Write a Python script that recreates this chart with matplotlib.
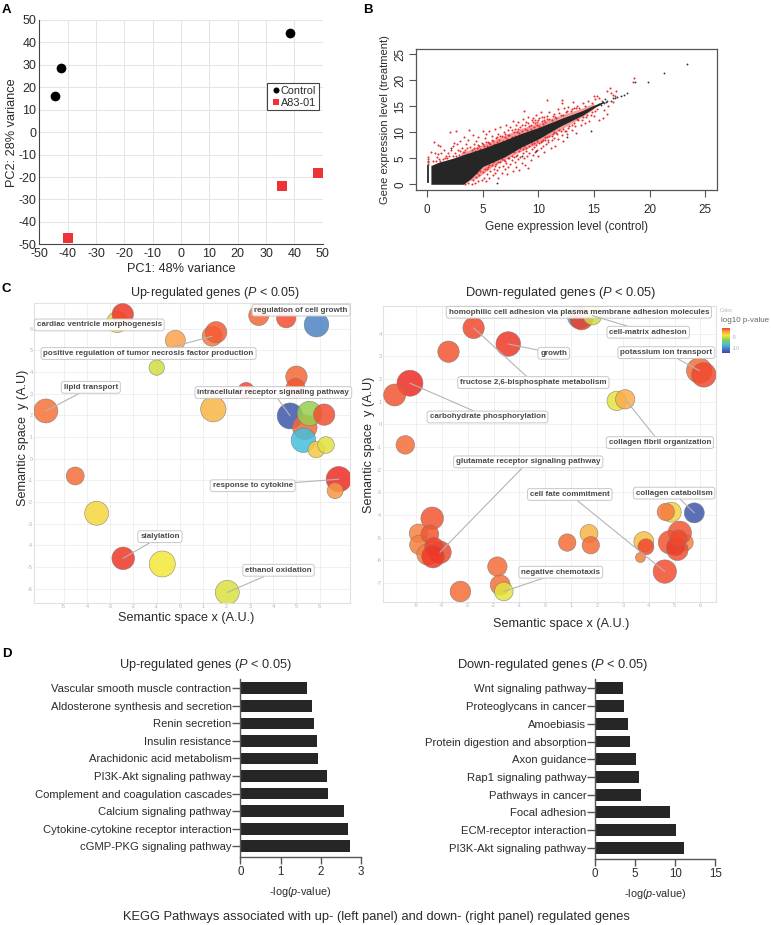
import matplotlib
matplotlib.use('Agg')
import matplotlib.pyplot as plt
import numpy as np
from matplotlib.colors import LinearSegmentedColormap, Normalize

plt.rcParams['font.family'] = ['Liberation Sans', 'DejaVu Sans']
plt.rcParams['mathtext.fontset'] = 'custom'
plt.rcParams['mathtext.rm'] = 'Liberation Sans'
plt.rcParams['mathtext.it'] = 'Liberation Sans:italic'
plt.rcParams['axes.unicode_minus'] = False

W, H = 771, 925
TXT = '#2b2b2b'

# Panel A
control_x = [38.5, -42.5, -44.5]
control_y = [44, 28.5, 16]
a83_x = [35.5, 48.5, -40]
a83_y = [-24, -18, -47]
a_ticks = list(range(-50, 51, 10))

# Panel B
band_x = [0.35, 1, 2.4, 3.27, 4, 5, 7, 8.5, 10, 12, 14, 15, 15.8]
band_up = [3.6, 4.2, 5.05, 5.7, 6.2, 6.9, 8.5, 9.8, 10.9, 12.6, 14.2, 15.2, 15.9]
band_lo = [0, 0, 0, 0, 1.2, 3.4, 5.3, 7.2, 8.7, 11.2, 13.3, 14.7, 15.6]
red_band_x = [3, 4.5, 6, 8, 10, 12, 14, 15]
red_band_up = [6.0, 7.2, 8.5, 10.4, 11.8, 13.3, 14.7, 15.6]
red_band_lo = [0, 1.2, 3.6, 5.9, 7.9, 10.5, 13.0, 14.5]
red_points = [
    (0.05,5.2),(0.05,4.8),(0.05,4.5),(0.05,4.2),(0.05,3.9),
    (0.4,6.2),(0.63,8.2),(1.0,7.5),(1.2,7.3),(0.7,6.0),(0.9,5.3),(0.5,4.4),(1.0,5.9),(1.3,6.1),(1.5,6.5),
    (1.6,5.1),(1.9,6.0),(1.1,4.8),(0.8,4.5),(1.4,4.9),(1.7,5.5),(2.0,5.4),(2.07,10.0),(2.2,6.6),(2.3,7.3),
    (2.57,10.3),(2.4,8.0),(2.5,6.0),(2.8,6.6),(2.7,7.8),(2.9,5.6),(2.95,8.4),(3.1,7.0),(3.2,6.2),(3.3,9.0),
    (3.4,6.6),(3.5,7.7),(3.6,5.9),(3.7,8.6),(3.8,10.4),(3.9,7.2),(4.0,6.6),(4.1,9.4),(4.2,7.7),(4.3,6.4),
    (4.4,8.3),(4.5,6.9),(4.6,9.0),(4.7,7.4),(4.8,6.7),(4.9,8.0),(5.0,10.2),(5.1,7.3),(5.2,8.8),(5.3,9.6),
    (5.4,7.4),(5.5,8.2),(5.6,10.3),(5.7,7.8),(5.8,9.2),(5.9,8.4),(6.0,7.8),(6.1,10.6),(6.2,8.9),(6.3,8.2),
    (6.4,9.7),(6.5,8.6),(6.6,11.0),(6.7,9.2),(6.8,8.4),(6.9,10.1),(7.0,9.0),(7.1,11.3),(7.2,8.7),(7.3,10.4),
    (7.4,9.4),(7.5,11.0),(7.6,9.0),(7.7,12.2),(7.8,10.0),(7.9,9.3),(8.0,11.3),(8.1,10.0),(8.2,12.0),(8.3,9.8),
    (8.4,11.0),(8.5,10.2),(8.74,14.1),(8.6,12.6),(8.8,10.6),(8.9,12.0),(9.0,10.5),(9.1,13.0),(9.2,11.2),
    (9.3,10.6),(9.4,12.3),(9.55,12.8),(9.6,11.0),(9.7,11.8),(9.8,13.4),(9.9,11.4),(10.0,12.4),(10.1,11.2),
    (10.2,13.8),(10.3,12.2),(10.4,11.6),(10.5,13.0),(10.6,12.0),(10.8,16.2),(10.8,12.5),(11.0,13.8),(11.2,12.4),
    (11.4,13.6),(11.6,12.8),(11.8,14.4),(12.0,13.4),(12.1,16.2),(12.1,15.7),(12.3,14.6),(12.5,13.8),(12.7,14.8),
    (12.9,14.1),(13.1,15.9),(13.2,14.6),(13.5,15.1),(13.7,14.6),(14.0,15.6),(14.2,15.0),(14.5,16.0),(14.8,15.7),
    (15.0,17.0),(15.1,16.3),(15.3,17.0),(15.5,16.6),(15.7,16.0),(16.2,17.9),(16.4,18.5),(16.5,17.6),(17.0,18.0),
    (16.7,17.2),(16.9,17.0),(18.5,19.7),(18.6,20.4),
    (3.4,0.1),(3.7,0.3),(4.0,0.1),(4.1,0.9),(4.3,0.3),(4.4,1.4),(4.6,0.6),(4.7,1.8),(4.9,0.9),(5.0,2.4),(5.1,1.3),
    (5.2,3.0),(5.3,0.6),(5.4,1.9),(5.5,3.3),(5.6,1.2),(5.7,2.6),(5.8,3.8),(5.9,1.7),(6.0,3.0),(6.1,2.1),(6.2,3.9),
    (6.3,2.7),(6.4,1.2),(6.5,3.4),(6.6,4.2),(6.7,2.2),(6.8,3.6),(6.9,4.7),(7.0,2.9),(7.1,4.1),(7.2,1.9),(7.3,3.4),
    (7.4,5.0),(7.5,3.9),(7.6,4.7),(7.7,2.6),(7.8,5.3),(7.9,4.2),(8.0,3.4),(8.1,5.7),(8.2,4.9),(8.3,2.7),(8.4,5.3),
    (8.5,4.0),(8.6,6.1),(8.7,5.0),(8.8,3.7),(8.9,6.3),(9.0,5.4),(9.1,3.2),(9.2,6.0),(9.3,4.6),(9.4,6.8),(9.5,5.7),
    (9.6,7.2),(9.7,6.2),(9.8,7.6),(9.9,6.6),(10.0,5.4),(10.1,7.9),(10.2,6.9),(10.3,8.3),(10.4,7.4),(10.5,6.2),
    (10.6,8.6),(10.7,7.7),(10.8,9.0),(10.9,8.2),(11.0,9.3),(11.1,7.0),(11.2,8.6),(11.3,9.7),(11.4,8.9),(11.5,7.4),
    (11.6,9.9),(11.8,8.7),(12.0,10.2),(12.1,9.4),(12.2,8.4),(12.4,10.3),(12.6,9.6),(12.8,11.2),(13.0,10.4),
    (13.2,11.8),(13.4,9.9),(13.6,12.3),(13.8,11.3),(14.0,12.9),(14.2,11.8),(14.4,13.3),(14.6,12.2),(14.8,13.8),
    (15.0,13.2),(15.1,14.1),(15.3,14.5),(15.5,12.4),(15.8,12.7),(16.2,13.5),(15.9,14.3),(16.7,15.9),(16.3,15.0),
    # tighter cloud either side of the black band
    (1.2,4.5),(1.8,5.0),(2.3,5.5),(2.6,5.5),(3.0,6.4),(3.3,6.2),(3.6,6.9),(4.2,6.9),(4.6,7.6),(5.0,7.7),(5.3,8.2),
    (5.6,8.0),(5.8,8.6),(6.3,9.0),(6.6,9.3),(7.0,9.7),(7.3,9.4),(7.6,10.4),(7.9,10.6),(8.2,10.7),(8.5,11.3),
    (8.8,11.3),(9.1,11.7),(9.3,11.4),(9.5,11.9),(9.7,12.4),(9.9,12.0),(10.1,12.7),(10.3,12.9),(10.5,12.3),
    (10.8,13.1),(11.0,12.6),(11.3,13.2),(11.5,13.0),(11.9,13.7),(12.2,13.4),(12.6,14.0),(13.0,14.5),(13.4,14.6),
    (8.0,5.5),(8.3,6.3),(8.6,6.7),(8.9,7.0),(9.2,7.3),(9.4,7.7),(9.6,7.9),(9.9,8.4),(10.2,8.2),(10.4,8.6),
    (7.0,4.5),(7.3,5.0),(7.6,5.5),(7.8,6.2),(6.1,3.6),(6.4,4.2),(6.7,4.9),(5.4,2.9),(5.6,3.8),(5.9,4.3),(4.8,2.6),
    (4.5,2.2),(10.6,9.0),(10.9,8.6),(11.2,9.2),(11.4,10.0),(11.7,9.6),(11.9,10.4),(12.2,10.7),(12.5,10.2),
    (12.7,10.9),(13.0,11.4),(13.3,11.2),(13.5,12.5),(13.9,12.3),(14.3,12.9),(14.7,13.3),(7.2,6.0),(7.5,6.3),
    (8.1,6.9),(8.4,7.0),(8.7,7.4),(9.0,7.9),(9.3,8.2),
]
black_points = [
    (23.4,23.1),(21.3,21.3),(19.9,19.7),(18.7,19.7),(18.0,17.5),(17.7,17.2),(17.4,16.9),(17.1,16.8),(16.9,16.6),
    (16.7,16.6),(16.5,16.1),(16.2,16.0),(16.0,16.4),(16.1,15.8),(15.8,15.9),(15.6,15.2),(15.9,15.6),(15.5,15.5),
    (14.7,10.3),(12.6,9.15),(6.3,0.3),(8.5,5.4),(9.8,6.3),(2.2,7.0),(5.0,5.5),
]
gene_col_x = [0.05, 0.05]
gene_col_y = [0.4, 3.6]

# Panel C: x, y, radius in px, log10 p
up_x = [-2.7, -2.46, 3.38, 4.56, 5.86, -0.2, 1.38, 1.55, -1.0, 5.0, 4.96, 2.84, -5.76, 1.43, 4.73, 5.36, 5.56, 6.19,
        5.3, 5.85, 6.27, 6.82, 6.66, -4.5, -3.58, -2.44, -0.76, 2.03]
up_y = [6.3, 6.66, 6.6, 6.48, 6.18, 5.46, 5.65, 5.83, 4.2, 3.78, 3.25, 3.15, 2.2, 2.28, 1.97, 1.45, 2.08, 2.03,
        0.85, 0.42, 0.63, -0.95, -1.48, -0.8, -2.52, -4.6, -4.86, -6.17]
up_r = [10.5, 10.7, 10, 9.7, 12.3, 10, 10, 10.7, 7.7, 10.7, 9.7, 8, 12, 12.7, 13, 12.3, 12.3, 10.7,
        12.3, 8.3, 8.3, 12.7, 8, 9, 12, 11.3, 13, 12]
up_p = [-4.0, -1.2, -2.0, -1.6, -10, -3.0, -2.3, -1.8, -5.2, -2.0, -1.7, -1.5, -2.2, -3.4, -11.5, -2.0, -6.3, -1.6,
        -8.5, -3.8, -4.9, -1.0, -2.8, -2.1, -4.1, -1.2, -4.5, -5.0]
down_x = [1.31, 1.40, 1.82, -2.77, -1.43, -3.74, 5.95, 6.13, -5.23, -5.82, 2.76, 3.09, -5.41, -4.37, -4.9, -4.87,
          -4.46, -4.55, -4.07, -4.3, -4.34, -1.85, -1.74, -1.6, -3.28, 0.85, 1.69, 1.76, 3.81, 3.89, 3.68, 4.62,
          4.87, 4.66, 5.76, 5.4, 5.2, 4.82, 5.11, 5.04, 5.16]
down_y = [4.75, 4.68, 4.79, 4.25, 3.54, 3.2, 2.37, 2.18, 1.81, 1.29, 1.03, 1.1, -0.91, -4.15, -4.81, -5.32,
          -4.85, -5.74, -5.65, -5.4, -5.84, -6.28, -7.09, -7.38, -7.38, -5.22, -4.82, -5.34, -5.18, -5.41, -5.88, -6.5,
          -3.88, -3.87, -3.91, -5.22, -4.79, -5.21, -5.54, -5.4, -5.03]
down_r = [11.7, 11.7, 9.3, 10.7, 12.3, 10.7, 12.7, 12.3, 13, 11, 9.7, 9.7, 9.3, 11.3, 9.3, 9.7,
          9, 10.7, 11.3, 9.3, 11.3, 9.7, 10, 9.3, 10.3, 8.7, 9, 8.7, 10, 8, 5, 11.7,
          10, 8.7, 10, 8.3, 11.7, 11.7, 10.7, 9, 8.3]
down_p = [-8.5, -1.2, -5.2, -1.5, -1.2, -1.7, -2.1, -1.5, -1.0, -1.7, -4.8, -3.2, -2.1, -1.7, -2.5, -2.4,
          -1.7, -2.4, -1.5, -1.4, -1.2, -2.1, -2.2, -4.8, -2.1, -2.1, -3.4, -2.1, -3.6, -1.5, -2.4, -1.6,
          -4.0, -2.3, -11.5, -2.5, -1.7, -1.7, -1.6, -1.3, -1.5]

up_labels = ['cardiac ventricle morphogenesis', 'positive regulation of tumor necrosis factor production',
             'regulation of cell growth', 'lipid transport', 'intracellular receptor signaling pathway',
             'response to cytokine', 'sialylation', 'ethanol oxidation']
up_label_x = [-3.47, -1.35, 5.2, -3.83, 4.01, 3.12, -0.86, 4.23]
up_label_y = [6.17, 4.85, 6.85, 3.29, 3.05, -1.25, -3.6, -5.15]
up_target_x = [None, 1.38, None, -5.76, 4.73, 6.82, -2.44, 2.03]
up_target_y = [None, 5.65, None, 2.2, 1.97, -0.95, -4.6, -6.17]
down_labels = ['homophilic cell adhesion via plasma membrane adhesion molecules', 'cell-matrix adhesion', 'growth',
               'potassium ion transport', 'fructose 2,6-bisphosphate metabolism', 'carbohydrate phosphorylation',
               'collagen fibril organization', 'glutamate receptor signaling pathway', 'cell fate commitment',
               'collagen catabolism', 'negative chemotaxis']
down_label_x = [1.3, 3.98, 0.33, 4.68, -0.46, -2.23, 4.43, -0.66, 0.95, 4.98, 0.6]
down_label_y = [4.94, 4.06, 3.13, 3.16, 1.84, 0.32, -0.81, -1.66, -3.1, -3.04, -6.53]
down_target_x = [None, 1.82, -1.43, 5.95, -2.77, -5.23, 3.09, -4.07, 4.62, 5.76, -1.6]
down_target_y = [None, 4.79, 3.54, 2.37, 4.25, 1.81, 1.1, -5.65, -6.5, -3.91, -7.38]

# Panel D
up_pathways = ['cGMP-PKG signaling pathway', 'Cytokine-cytokine receptor interaction', 'Calcium signaling pathway',
               'Complement and coagulation cascades', 'PI3K-Akt signaling pathway', 'Arachidonic acid metabolism',
               'Insulin resistance', 'Renin secretion', 'Aldosterone synthesis and secretion',
               'Vascular smooth muscle contraction']
up_values = [2.72, 2.67, 2.58, 2.17, 2.15, 1.93, 1.90, 1.82, 1.77, 1.67]
down_pathways = ['PI3K-Akt signaling pathway', 'ECM-receptor interaction', 'Focal adhesion', 'Pathways in cancer',
                 'Rap1 signaling pathway', 'Axon guidance', 'Protein digestion and absorption', 'Amoebiasis',
                 'Proteoglycans in cancer', 'Wnt signaling pathway']
down_values = [11.05, 10.05, 9.35, 5.73, 5.44, 5.11, 4.32, 4.11, 3.66, 3.49]

p_cmap = LinearSegmentedColormap.from_list('pval', [
    (0.0, '#3b49a5'), (2 / 11, '#4c83c4'), (3.5 / 11, '#45bfdc'), (5.5 / 11, '#8ecb4f'),
    (7.5 / 11, '#f4e83a'), (9 / 11, '#fba44a'), (1.0, '#ee2d24')])
p_norm = Normalize(-12, -1)


def px_axes(left, top, right, bottom):
    return fig.add_axes([left / W, 1 - bottom / H, (right - left) / W, (bottom - top) / H])


def draw_bubbles(ax, xs, ys, rs, ps, labels, lx, ly, tx, ty, xt, yt, xlim, ylim):
    ax.set_xlim(*xlim)
    ax.set_ylim(*ylim)
    ax.set_xticks(xt)
    ax.set_yticks(yt)
    ax.grid(True, color='#eeeeee', lw=0.6)
    ax.set_axisbelow(True)
    ax.tick_params(length=0, labelsize=4, labelcolor='#b5b5b5', pad=1)
    for s in ax.spines.values():
        s.set_color('#e2e2e2')
        s.set_linewidth(0.8)
    sizes = [(2 * r * 0.72) ** 2 for r in rs]
    ax.scatter(xs, ys, s=sizes, c=ps, cmap=p_cmap, norm=p_norm, alpha=0.85,
               edgecolors='#777777', linewidths=0.4, zorder=3)
    box = dict(boxstyle='round,pad=0.3', fc='white', ec='#c4c4c4', lw=0.7, alpha=0.93)
    for name, x, y, a, b in zip(labels, lx, ly, tx, ty):
        if a is None:
            ax.text(x, y, name, ha='center', va='center', fontsize=5.75, fontweight='bold',
                    color='#4a4a4a', bbox=box, zorder=6, clip_on=False)
        else:
            ax.annotate(name, xy=(a, b), xytext=(x, y), ha='center', va='center', fontsize=5.75,
                        fontweight='bold', color='#4a4a4a', bbox=box, zorder=6,
                        arrowprops=dict(arrowstyle='-', color='#b5b5b5', lw=0.8, shrinkA=0, shrinkB=0))


def draw_bars(ax, names, values, xticks, xlim):
    pos = np.arange(len(names))
    ax.barh(pos, values, height=0.667, color='#262626')
    ax.set_xlim(*xlim)
    ax.set_ylim(-0.63, 9.53)
    ax.set_xticks(xticks)
    ax.set_yticks(pos)
    ax.set_yticklabels(names)
    ax.spines['top'].set_visible(False)
    ax.spines['right'].set_visible(False)
    for s in ['left', 'bottom']:
        ax.spines[s].set_color('#555555')
        ax.spines[s].set_linewidth(1)
    ax.tick_params(axis='y', length=5.5, width=1, color='#555555', labelsize=8.1, labelcolor=TXT, pad=0.8)
    ax.tick_params(axis='x', length=5, width=1, color='#555555', labelsize=8.3, labelcolor=TXT, pad=1.5)
    ax.set_xlabel('-log($\\mathit{p}$-value)', fontsize=7.8, color=TXT, labelpad=5)


fig = plt.figure(figsize=(W / 100, H / 100), dpi=100)

# A
ax = px_axes(39.3, 20, 322.7, 244.3)
ax.set_xlim(-50, 50)
ax.set_ylim(-50, 50)
ax.set_xticks(a_ticks)
ax.set_yticks(a_ticks)
ax.grid(True, color='#e4e4e4', lw=0.7)
ax.set_axisbelow(True)
ax.tick_params(length=0, labelsize=9, labelcolor=TXT, pad=2)
ax.tick_params(axis='x', pad=3)
ax.spines['top'].set_visible(False)
ax.spines['right'].set_visible(False)
for s in ['left', 'bottom']:
    ax.spines[s].set_color('#444444')
ax.plot(control_x, control_y, 'o', color='black', ms=7, mew=0, clip_on=False, label='Control', zorder=4)
ax.plot(a83_x, a83_y, 's', color='#ee3338', ms=6.8, mew=0, clip_on=False, label='A83-01', zorder=4)
ax.set_xlabel('PC1: 48% variance', fontsize=9.2, color=TXT, labelpad=2)
ax.set_ylabel('PC2: 28% variance', fontsize=9.2, color=TXT, labelpad=0.5)
leg = ax.legend(loc='upper left', bbox_to_anchor=(0.805, 0.718), fontsize=7.8, frameon=True, fancybox=False,
                edgecolor='#444444', framealpha=1, handletextpad=0, borderpad=0.25, labelspacing=0.15,
                handlelength=1, markerscale=0.62, borderaxespad=0)
leg.get_frame().set_linewidth(0.8)
for t in leg.get_texts():
    t.set_color(TXT)

# B
ax = px_axes(416, 49, 717, 190)
ax.set_xlim(-0.99, 26.06)
ax.set_ylim(-1.1, 26.0)
ax.fill_between(red_band_x, red_band_lo, red_band_up, color='#ee3a3a', alpha=0.5, lw=0, zorder=1)
rx, ry = zip(*red_points)
ax.scatter(rx, ry, s=2.2, color='#ea2e30', linewidths=0, zorder=2)
bx, by = zip(*black_points)
ax.scatter(bx, by, s=1.8, color='#333333', linewidths=0, zorder=3)
ax.fill_between(band_x, band_lo, band_up, color='#262626', lw=0, zorder=3)
ax.plot(gene_col_x, gene_col_y, color='#262626', lw=1.3, zorder=3)
ax.set_xticks(range(0, 26, 5))
ax.set_yticks(range(0, 26, 5))
ax.tick_params(length=5, width=0.8, color='#555555', labelsize=8.4, labelcolor=TXT, pad=5)
ax.tick_params(axis='y', pad=2)
plt.setp(ax.get_yticklabels(), rotation=90, va='center')
for s in ax.spines.values():
    s.set_color('#555555')
    s.set_linewidth(0.9)
ax.set_xlabel('Gene expression level (control)', fontsize=8.5, color=TXT, labelpad=4)
ax.set_ylabel('Gene expression level (treatment)', fontsize=8, color=TXT, labelpad=3)

# C
ax = px_axes(34, 303, 350, 603)
draw_bubbles(ax, up_x, up_y, up_r, up_p, up_labels, up_label_x, up_label_y, up_target_x, up_target_y,
             range(-5, 7), range(-6, 7), (-6.27, 7.3), (-6.66, 7.18))
ax.set_xlabel('Semantic space x (A.U.)', x=0.481, fontsize=9.1, color=TXT, labelpad=2)
ax.set_ylabel('Semantic space  y (A.U)', y=0.55, fontsize=9.1, color=TXT, labelpad=-1)
ax.set_title('Up-regulated genes ($\\mathit{P}$ < 0.05)', x=0.573, fontsize=9, color=TXT, pad=5)

ax = px_axes(383.3, 305.7, 716, 601.7)
draw_bubbles(ax, down_x, down_y, down_r, down_p, down_labels, down_label_x, down_label_y, down_target_x,
             down_target_y, range(-5, 7), range(-7, 5), (-6.26, 6.6), (-7.83, 5.23))
ax.set_xlabel('Semantic space x (A.U.)', x=0.534, fontsize=9.1, color=TXT, labelpad=7)
ax.set_ylabel('Semantic space  y (A.U)', y=0.529, fontsize=9.1, color=TXT, labelpad=1)
ax.set_title('Down-regulated genes ($\\mathit{P}$ < 0.05)', x=0.534, fontsize=9.3, color=TXT, pad=7)

cax = px_axes(721.7, 328, 729, 353)
cax.imshow(np.linspace(-1, -12, 64).reshape(-1, 1), aspect='auto', cmap=p_cmap, norm=p_norm,
           extent=(0, 1, -12, -1))
cax.set_xticks([])
cax.yaxis.tick_right()
cax.set_yticks([-5, -10])
cax.tick_params(length=0, labelsize=4, labelcolor='#b5b5b5', pad=2)
for s in cax.spines.values():
    s.set_visible(False)
fig.text(720 / W, 1 - 310 / H, 'Color', fontsize=4, color='#b5b5b5', va='center')
fig.text(721 / W, 1 - 320.5 / H, 'log10 p-value', fontsize=5.8, color='#666666', va='center')

# D
ax = px_axes(240.3, 679, 361, 857.3)
draw_bars(ax, up_pathways, up_values, [0, 1, 2, 3], (0, 3))
ax.set_title('Up-regulated genes ($\\mathit{P}$ < 0.05)', x=-0.29, fontsize=9.2, color=TXT, pad=8)
ax = px_axes(595, 679, 715.3, 859)
draw_bars(ax, down_pathways, down_values, [0, 5, 10, 15], (0, 15))
ax.set_title('Down-regulated genes ($\\mathit{P}$ < 0.05)', x=-0.35, fontsize=9.3, color=TXT, pad=8)

fig.text(376 / W, 1 - 917 / H, 'KEGG Pathways associated with up- (left panel) and down- (right panel) regulated genes',
         fontsize=9.3, color=TXT, ha='center', va='center')

for letter, x, y in [('A', 2, 10), ('B', 363, 10), ('C', 2, 289), ('D', 2, 654)]:
    fig.text(x / W, 1 - y / H, letter, fontsize=9.5, fontweight='bold', color='black', va='center')

fig.savefig('out.png', dpi=100)
